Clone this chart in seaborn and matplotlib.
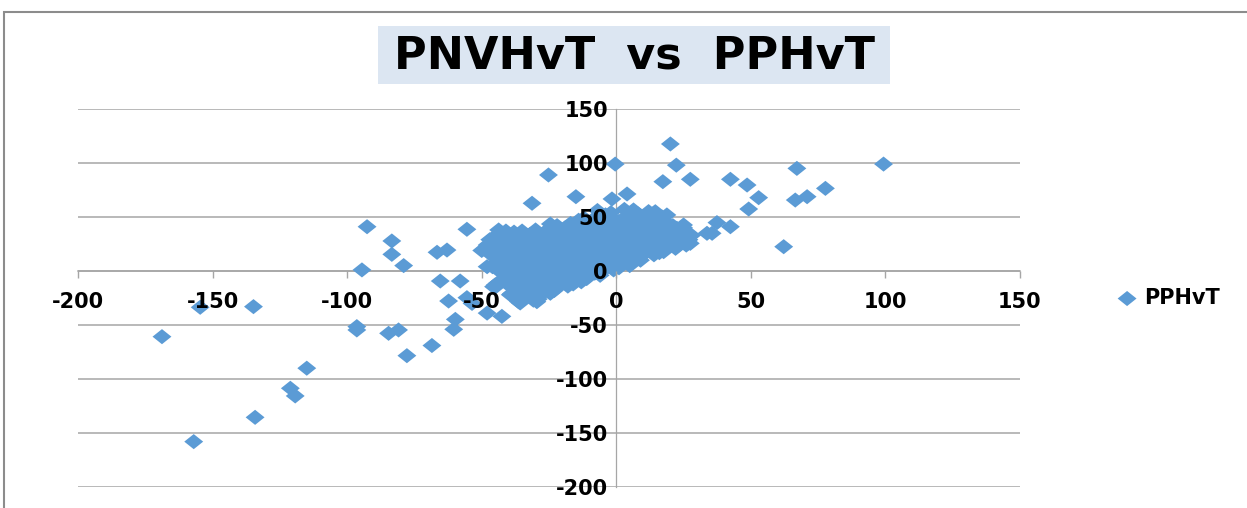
import numpy as np
import pandas as pd
import seaborn as sns
import matplotlib.pyplot as plt
from matplotlib.path import Path
from matplotlib.patches import Rectangle

# PNVHvT (x) and PPHvT (y)
# scattered points away from the main cloud
pnvhvt_outer = [-92.6, -83.4, -83.4, -79.0, -94.5, -66.6, -62.9, -55.5, -65.4, -58.0,
                -62.3, -55.5, -59.8, -60.4, -68.5, -77.8, -80.9, -84.6, -96.4, -96.4,
                -115.0, -121.1, -119.3, -134.2, -157.0, -168.8, -154.6, -134.8,
                20.1, -0.4, 22.3, 17.3, 27.5, 42.4, 48.6, 52.9, 49.2, 67.1, 66.5, 70.9,
                77.7, 99.3, 62.2, 37.4, 42.4, 35.6, 4.0, -1.6, 25.0, 17.6, 26.8, 22.5,
                14.5, -25.2, -31.3, -15.0, -48.7, -43.7, -48.0, -45.0, -24.5,
                -45.6, -48.0, -42.5, -53.6, -39.4, -34.4, -29.5, -36.3, -24.5, -35.7,
                -30.8, 18.8, 25.0, 27.5, 22.5, 33.7, 6.4, 13.9]
pphvt_outer = [41.0, 27.8, 15.4, 5.0, 1.0, 17.3, 19.4, 38.6, -9.3, -9.3,
               -27.8, -24.7, -44.8, -54.0, -69.0, -78.4, -54.6, -57.7, -51.5, -54.6,
               -90.0, -108.6, -115.7, -135.5, -158.0, -60.8, -33.6, -33.0,
               117.6, 99.0, 98.0, 82.7, 84.9, 84.9, 79.6, 67.9, 57.4, 95.0, 65.7, 68.8,
               76.5, 99.0, 22.5, 44.8, 41.0, 34.9, 71.3, 66.7, 28.7, 17.9, 26.0, 39.5,
               54.9, 88.9, 62.7, 68.8, 21.0, 38.0, 4.0, -13.0, 43.5,
               -14.5, -39.0, -42.0, -30.0, -22.0, -19.0, -28.4, -28.4, -20.6, -29.6,
               -27.0, 51.9, 42.6, 25.6, 22.5, 34.9, 56.5, 53.4]

# dense cloud around the origin
pnvhvt_core = [-7, -2, 3, 8, 12,
               -12, -7, -2, 3, 9, 14, 17,
               -17, -11, -5, 1, 7, 13, 19, 21,
               -25, -19, -13, -7, -1, 5, 11, 16, 21, 25,
               -44, -38, -32, -27, -21, -15, -9, -3, 3, 9, 15, 20, 26, 28,
               -47, -42, -36, -30, -24, -18, -12, -6, 0, 6, 12, 18, 23, 27,
               -48, -43, -37, -31, -25, -19, -13, -7, -1, 5, 11, 16, 21, 26,
               -50, -44, -38, -32, -26, -20, -14, -8, -2, 4, 10, 15, 22,
               -46, -40, -34, -28, -22, -16, -10, -4, 2, 8, 14,
               -44, -38, -32, -26, -20, -14, -8, -2, 4, 9,
               -46, -40, -34, -28, -22, -16, -10, -4, 2, 5,
               -43, -37, -31, -25, -19, -13, -7, -1,
               -41, -35, -29, -23, -17, -11, -6,
               -44, -38, -32, -26, -20, -13,
               -45, -36, -30, -24, -18,
               -39, -33, -27, -23,
               -34, -29]
pphvt_core = [56, 54, 57, 53, 55,
              49, 51, 50, 49, 51, 48, 50,
              44, 46, 45, 46, 44, 45, 44, 42,
              39, 40, 38, 41, 39, 40, 38, 41, 38, 40,
              34, 36, 34, 35, 33, 36, 34, 35, 33, 36, 34, 35, 33, 33,
              29, 31, 30, 28, 31, 29, 30, 28, 31, 29, 30, 28, 31, 29,
              24, 26, 25, 24, 26, 24, 25, 23, 26, 24, 25, 23, 26, 24,
              19, 21, 20, 18, 20, 21, 19, 20, 18, 21, 19, 20, 21,
              14, 16, 15, 13, 16, 14, 15, 13, 16, 14, 15,
              9, 11, 10, 8, 11, 9, 10, 8, 11, 10,
              4, 6, 5, 3, 6, 4, 5, 3, 6, 5,
              -1, 1, 0, -2, 1, -1, 0, 1,
              -6, -4, -5, -7, -4, -6, -4,
              -11, -9, -10, -12, -9, -10,
              -15, -14, -16, -15, -14,
              -21, -19, -20, -18,
              -24, -26]

# more points packed between the ones above
pnvhvt_fill = [-4, 6,
               -14, -8, 4, 10, 16,
               -22, -16, -10, -4, 2, 8, 14, 19,
               -41, -35, -30, -24, -18, -12, -6, 0, 6, 12, 18, 23,
               -45, -39, -33, -27, -21, -15, -9, -3, 3, 9, 15, 21, 25,
               -46, -40, -34, -28, -22, -16, -10, -4, 2, 8, 14, 19, 24,
               -47, -41, -35, -29, -23, -17, -11, -5, 1, 7, 13, 18,
               -43, -37, -31, -25, -19, -13, -7, -1, 5, 11, 16,
               -41, -35, -29, -23, -17, -11, -5, 1, 7,
               -43, -37, -31, -25, -19, -13, -7, -1, 4,
               -40, -34, -28, -22, -16, -10, -4, 1,
               -38, -32, -26, -20, -14, -8,
               -41, -35, -29, -23, -17, -11,
               -40, -33, -27, -21, -16,
               -36, -30, -25]
pphvt_fill = [52, 53,
              47, 48, 47, 47, 46,
              42, 43, 42, 43, 42, 42, 43, 41,
              37, 37, 38, 37, 37, 37, 37, 37, 37, 36, 38, 37,
              32, 33, 32, 32, 32, 32, 32, 32, 32, 32, 32, 32, 31,
              27, 27, 27, 27, 27, 27, 27, 27, 27, 27, 27, 27, 27,
              22, 22, 22, 22, 22, 22, 22, 22, 22, 22, 22, 22,
              17, 18, 17, 17, 17, 17, 17, 17, 17, 17, 17,
              12, 12, 12, 12, 12, 12, 12, 12, 12,
              7, 7, 7, 7, 7, 7, 7, 7, 8,
              2, 2, 2, 2, 2, 2, 2, 3,
              -2, -3, -3, -3, -3, -2,
              -8, -8, -8, -8, -8, -7,
              -13, -13, -13, -13, -12,
              -18, -18, -17]

x_ticks = [-200, -150, -100, -50, 0, 50, 100, 150]
y_ticks = [-200, -150, -100, -50, 0, 50, 100, 150]
series_name = "PPHvT"
title_text = "PNVHvT  vs  PPHvT"

df = pd.DataFrame({"PNVHvT": pnvhvt_outer + pnvhvt_core + pnvhvt_fill,
                   "PPHvT": pphvt_outer + pphvt_core + pphvt_fill})

plt.rcParams["font.family"] = ["DejaVu Sans"]
plt.rcParams["axes.unicode_minus"] = False

W, H = 1247, 508
fig = plt.figure(figsize=(W / 100, H / 100), dpi=100)
ax = fig.add_axes([78 / W, 1 - 487 / H, 942 / W, 378 / H])

# wide diamond like the Excel marker
diamond = Path([(-1, 0), (0, 0.8), (1, 0), (0, -0.8), (-1, 0)],
               [Path.MOVETO, Path.LINETO, Path.LINETO, Path.LINETO, Path.CLOSEPOLY])

blue = "#5B9BD5"
sns.scatterplot(data=df, x="PNVHvT", y="PPHvT", ax=ax, marker=diamond, s=185,
                color=blue, edgecolor="none", linewidth=0, label=series_name, zorder=1)

ax.set_xlim(-200, 150)
ax.set_ylim(-200, 150)
ax.set_xticks(x_ticks)
ax.set_yticks(y_ticks)
ax.set_xlabel("")
ax.set_ylabel("")

for yv in y_ticks:
    ax.axhline(yv, color="#a6a6a6", lw=1.1, zorder=0.4)

for side in ["top", "right"]:
    ax.spines[side].set_visible(False)
ax.spines["left"].set_position(("data", 0))
ax.spines["bottom"].set_position(("data", 0))
ax.spines["left"].set_color("#a6a6a6")
ax.spines["bottom"].set_color("#a6a6a6")
ax.spines["left"].set_linewidth(0.9)
ax.spines["bottom"].set_linewidth(1.1)
ax.spines["left"].set_zorder(0.5)
ax.spines["bottom"].set_zorder(0.5)

ax.tick_params(axis="x", direction="out", length=5, width=1, color="#a6a6a6",
               pad=10, labelsize=15)
ax.tick_params(axis="y", length=0, pad=6, labelsize=15)
for lab in ax.get_xticklabels() + ax.get_yticklabels():
    lab.set_fontweight("bold")

leg = ax.legend(loc="center left", bbox_to_anchor=(1100 / W, 1 - 298 / H),
                bbox_transform=fig.transFigure, frameon=False,
                handlelength=0.8, handletextpad=0.4,
                prop={"weight": "bold", "size": 15})

# title box
fig.patches.append(Rectangle((378 / W, 1 - 84 / H), 512 / W, 58 / H,
                             transform=fig.transFigure, facecolor="#dce6f2",
                             edgecolor="none", zorder=0))
fig.text(634 / W, 1 - 56 / H, title_text, ha="center", va="center",
         fontsize=32, fontweight="bold", color="black")

# chart area border
fig.patches.append(Rectangle((4 / W, -0.2), 1.5, 1.2 - 12 / H,
                             transform=fig.transFigure, facecolor="none",
                             edgecolor="#8c8c8c", lw=1.5))

fig.savefig("out.png", dpi=100)
